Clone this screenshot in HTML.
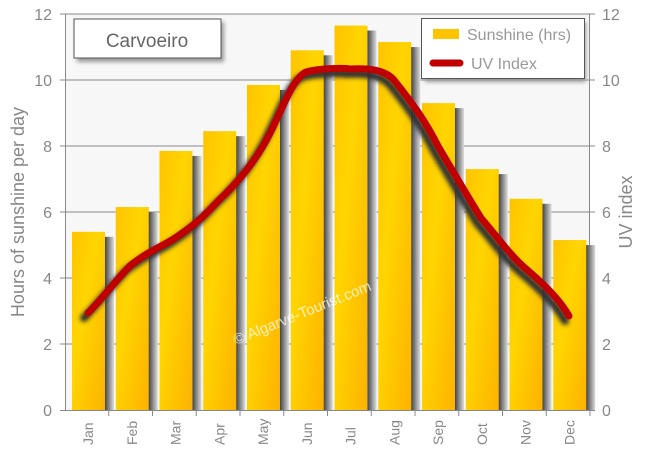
<!DOCTYPE html>
<html><head><style>body{margin:0;background:#fff}svg{display:block}text{font-family:"Liberation Sans",sans-serif}</style></head><body>
<svg width="650" height="450" viewBox="0 0 650 450">
<defs>
<linearGradient id="bg" x1="0" y1="0" x2="1" y2="1"><stop offset="0" stop-color="#ffc400"/><stop offset="0.4" stop-color="#ffd500"/><stop offset="1" stop-color="#fdb200"/></linearGradient>
<linearGradient id="sh" x1="0" x2="1"><stop offset="0" stop-color="#333"/><stop offset="1" stop-color="#ddd"/></linearGradient>
<filter id="ls"><feGaussianBlur stdDeviation="2"/></filter>
</defs>
<rect x="65" y="14" width="525" height="396" fill="#f7f7f7"/>
<g stroke="#888" stroke-width="1">
<line x1="65" y1="14" x2="590" y2="14"/><line x1="65" y1="80" x2="590" y2="80"/><line x1="65" y1="146" x2="590" y2="146"/><line x1="65" y1="212" x2="590" y2="212"/><line x1="65" y1="278" x2="590" y2="278"/><line x1="65" y1="344" x2="590" y2="344"/>
<line x1="65.5" y1="14" x2="65.5" y2="410"/><line x1="589.5" y1="14" x2="589.5" y2="410"/><line x1="60" y1="410.5" x2="595" y2="410.5"/>
<line x1="60" y1="14" x2="65" y2="14"/><line x1="60" y1="80" x2="65" y2="80"/><line x1="60" y1="146" x2="65" y2="146"/><line x1="60" y1="212" x2="65" y2="212"/><line x1="60" y1="278" x2="65" y2="278"/><line x1="60" y1="344" x2="65" y2="344"/>
<line x1="590" y1="14" x2="595" y2="14"/><line x1="590" y1="80" x2="595" y2="80"/><line x1="590" y1="146" x2="595" y2="146"/><line x1="590" y1="212" x2="595" y2="212"/><line x1="590" y1="278" x2="595" y2="278"/><line x1="590" y1="344" x2="595" y2="344"/>
</g>
<g id="bars"></g>
<g fill="#888" font-size="16" text-anchor="end">
<text x="52" y="20">12</text><text x="52" y="86">10</text><text x="52" y="152">8</text><text x="52" y="218">6</text><text x="52" y="284">4</text><text x="52" y="350">2</text><text x="52" y="416">0</text>
</g>
<g fill="#888" font-size="16">
<text x="602" y="20">12</text><text x="602" y="86">10</text><text x="602" y="152">8</text><text x="602" y="218">6</text><text x="602" y="284">4</text><text x="602" y="350">2</text><text x="602" y="416">0</text>
</g>
<text transform="translate(24,212) rotate(-90)" fill="#888" font-size="18" text-anchor="middle">Hours of sunshine per day</text>
<text transform="translate(632,212) rotate(-90)" fill="#888" font-size="18" text-anchor="middle">UV index</text>
<g id="months" fill="#888" font-size="14"></g>
<text transform="translate(236,345) rotate(-22)" fill="#fff" fill-opacity="0.75" font-size="15">© Algarve-Tourist.com</text>
<path d="M88,313 C110,290 120,275 131,265 C150,250 165,245 175,238 C195,225 205,215 219,200 C235,185 250,168 263,146 C280,118 290,80 306,72 C320,68 345,68 350,69 C370,68 385,70 394,80 C410,100 425,120 438,146 C455,175 470,200 481,218 C500,240 510,255 525,268 C545,285 560,300 569,316" fill="none" stroke="#333" stroke-width="8" stroke-linecap="round" filter="url(#ls)" transform="translate(-4,5)"/>
<path d="M88,313 C110,290 120,275 131,265 C150,250 165,245 175,238 C195,225 205,215 219,200 C235,185 250,168 263,146 C280,118 290,80 306,72 C320,68 345,68 350,69 C370,68 385,70 394,80 C410,100 425,120 438,146 C455,175 470,200 481,218 C500,240 510,255 525,268 C545,285 560,300 569,316" fill="none" stroke="#c00000" stroke-width="7" stroke-linecap="round"/>
<rect x="77" y="22" width="147" height="40" fill="#999" filter="url(#ls)"/>
<rect x="74" y="19" width="147" height="39" fill="#fff" stroke="#555"/>
<text x="147" y="47" fill="#666" font-size="19" text-anchor="middle">Carvoeiro</text>
<rect x="425" y="22" width="161" height="60" fill="#999" filter="url(#ls)"/>
<rect x="421.5" y="18.5" width="163" height="60" fill="#fff" stroke="#555"/>
<rect x="433" y="29" width="26" height="10" fill="#ffc400"/>
<line x1="433" y1="63" x2="460" y2="63" stroke="#c00000" stroke-width="7" stroke-linecap="round"/>
<text x="467" y="40" fill="#999" font-size="16">Sunshine (hrs)</text>
<text x="471" y="69" fill="#999" font-size="16">UV Index</text>
</svg>
<script>
var v=[5.4,6.15,7.85,8.45,9.85,10.9,11.65,11.15,9.3,7.3,6.4,5.15],m=["Jan","Feb","Mar","Apr","May","Jun","Jul","Aug","Sep","Oct","Nov","Dec"];
var ns="http://www.w3.org/2000/svg",b=document.getElementById("bars"),mo=document.getElementById("months");
function el(t,a,p){var e=document.createElementNS(ns,t);for(var k in a)e.setAttribute(k,a[k]);p.appendChild(e);return e;}
v.forEach(function(val,i){var x=65+i*43.75+7,y=410-val*33;
el("rect",{x:x+32,y:y+5,width:10,height:410-y-5,fill:"url(#sh)"},b);
el("rect",{x:x,y:y,width:33,height:410-y,fill:"url(#bg)"},b);
el("line",{x1:65+(i+1)*43.75,y1:410,x2:65+(i+1)*43.75,y2:416,stroke:"#888"},b);
var t=el("text",{transform:"translate("+(x+21)+",445) rotate(-90)"},mo);t.textContent=m[i];});
</script>
</body></html>
